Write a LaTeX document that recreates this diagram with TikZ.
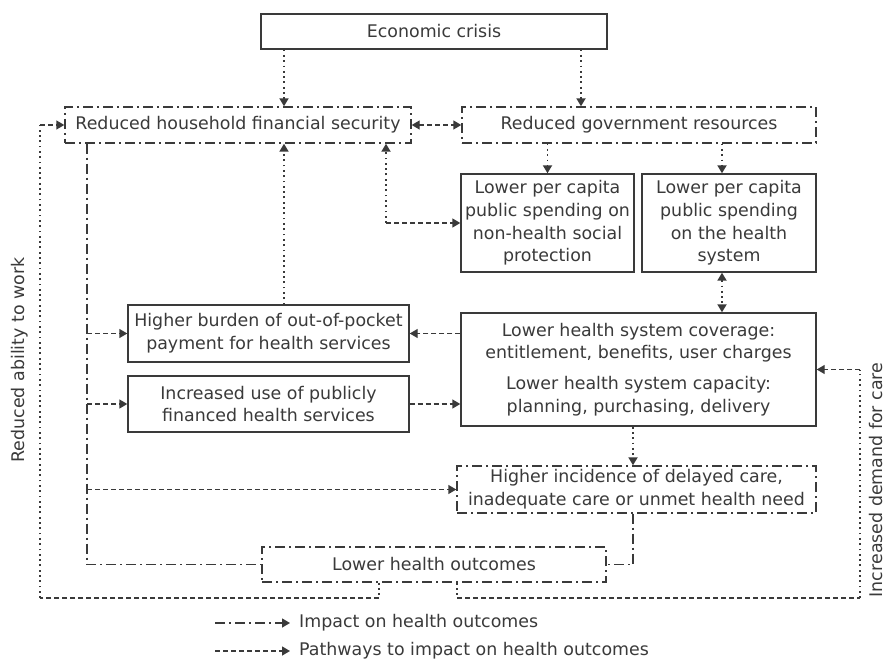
\documentclass[tikz,border=0pt]{standalone}
\usepackage{fontspec}
\setmainfont{DejaVu Sans}
\usetikzlibrary{arrows.meta}
\definecolor{ink}{HTML}{3A3A3A}
\begin{document}
\begin{tikzpicture}[x=1pt, y=-1pt, font=\fontsize{17.4}{22.7}\selectfont, text=ink]
		\tikzset{bx/.style={draw=ink, line width=1.4pt, align=center, inner sep=0pt}};
		\tikzset{dbx/.style={bx, dash pattern=on 10pt off 4pt on 2pt off 4pt}};
		\tikzset{ln/.style={draw=ink, line width=1.4pt}};
		\tikzset{impact/.style={ln, dash pattern=on 10pt off 4pt on 2pt off 4pt}};
		\tikzset{pathway/.style={ln, dash pattern=on 5pt off 3pt}};
		\tikzset{dotline/.style={ln, line width=1.8pt, dash pattern=on 1.8pt off 3.5pt}};
		\tikzset{arr/.style={-{Triangle[length=8pt, width=9pt]}}};
		\tikzset{arrs/.style={{Triangle[length=8pt, width=9pt]}-{Triangle[length=8pt, width=9pt]}}};

		\useasboundingbox[fill=white] (0,0) rectangle (885,660);

		\node[bx, minimum width=346, minimum height=35] (crisis) at (434,31.5) {Economic crisis};
		\node[dbx, minimum width=346, minimum height=36] (household) at (238,125) {Reduced household financial security};
		\node[dbx, minimum width=354, minimum height=36] (govres) at (639,125) {Reduced government resources};
		\node[bx, minimum width=173, minimum height=98] (socspend) at (547.5,223) {Lower per capita\\public spending on\\non-health social\\protection};
		\node[bx, minimum width=174, minimum height=98] (hlthspend) at (729,223) {Lower per capita\\public spending\\on the health\\system};
		\node[bx, minimum width=281, minimum height=57] (oop) at (268.5,333.5) {Higher burden of out-of-pocket\\payment for health services};
		\node[bx, minimum width=281, minimum height=56] (pubuse) at (268.5,404) {Increased use of publicly\\financed health services};
		\node[bx, minimum width=355, minimum height=113] (hsys) at (638.5,369.5) {Lower health system coverage:\\entitlement, benefits, user charges\\[8pt]Lower health system capacity:\\planning, purchasing, delivery};
		\node[dbx, minimum width=359, minimum height=47] (delayed) at (636.5,489.5) {Higher incidence of delayed care,\\inadequate care or unmet health need};
		\node[dbx, minimum width=344, minimum height=35] (outcomes) at (434,564.5) {Lower health outcomes};

		\node[rotate=90] (work) at (20,360) {Reduced ability to work};
		\node[rotate=90] (demand) at (876,480) {Increased demand for care};

		\node[anchor=west, inner xsep=9pt] (legimp) at (290,623) {Impact on health outcomes};
		\node[anchor=west, inner xsep=9pt] (legpath) at (290,651) {Pathways to impact on health outcomes};
		\coordinate (impstart) at (215,623);
		\coordinate (pathstart) at (215,651);

		\coordinate (colA) at (284,0);
		\coordinate (colB) at (581,0);
		\coordinate (colC) at (386,0);
		\coordinate (colE) at (722,0);
		\coordinate (colF) at (633,0);
		\coordinate (colG) at (379,0);
		\coordinate (colH) at (457,0);
		\coordinate (colT) at (87,0);
		\coordinate (lbot) at (40,598);
		\coordinate (ltop) at (40,125);
		\coordinate (rbot) at (860,598);

		\draw[dotline, arr] (crisis.south -| colA) -- (household.north -| colA);
		\draw[dotline, arr] (crisis.south -| colB) -- (govres.north -| colB);

		\draw[pathway, arrs] (household.east) -- (govres.west);
		\draw[dotline, arr] (colC |- socspend.west) -- (household.south -| colC);
		\draw[pathway, arr] (colC |- socspend.west) -- (socspend.west);
		\draw[dotline, arr] (oop.north -| colA) -- (household.south -| colA);

		\draw[dotline, arr] (govres.south -| socspend.north) -- (socspend.north);
		\draw[dotline, arr] (govres.south -| colE) -- (hlthspend.north -| colE);
		\draw[dotline, arrs] (hlthspend.south -| colE) -- (hsys.north -| colE);

		\draw[pathway, arr] (hsys.west |- oop.east) -- (oop.east);
		\draw[pathway, arr] (pubuse.east) -- (pubuse.east -| hsys.west);
		\draw[dotline, arr] (hsys.south -| colF) -- (delayed.north -| colF);
		\draw[impact] (delayed.south -| colF) |- (outcomes.east);

		\draw[impact] (household.south -| colT) |- (outcomes.west);
		\draw[pathway, arr] (colT |- oop.west) -- (oop.west);
		\draw[pathway, arr] (colT |- pubuse.west) -- (pubuse.west);
		\draw[pathway, arr] (colT |- delayed.west) -- (delayed.west);

		\draw[dotline] (outcomes.south -| colG) -- (colG |- lbot);
		\draw[pathway] (colG |- lbot) -- (lbot);
		\draw[dotline] (lbot) -- (ltop);
		\draw[pathway, arr] (ltop) -- (household.west);

		\draw[dotline] (outcomes.south -| colH) -- (colH |- rbot);
		\draw[pathway] (colH |- rbot) -- (rbot);
		\draw[dotline] (rbot) -- (rbot |- hsys.east);
		\draw[pathway, arr] (rbot |- hsys.east) -- (hsys.east);

		\draw[impact, arr] (impstart) -- (legimp.west);
		\draw[pathway, arr] (pathstart) -- (legpath.west);

	\end{tikzpicture}
\end{document}
